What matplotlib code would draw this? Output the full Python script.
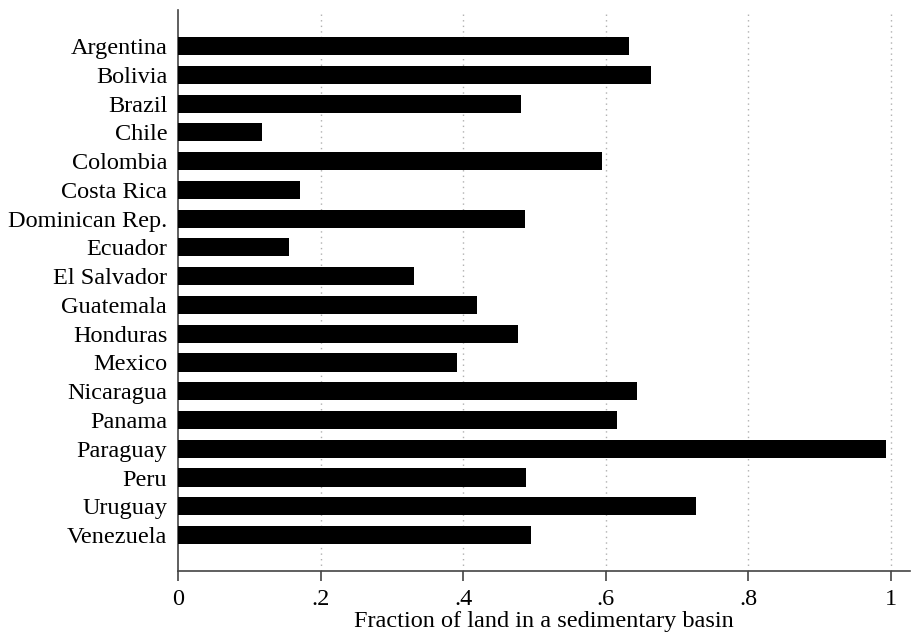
import matplotlib
matplotlib.use("Agg")
import matplotlib.pyplot as plt
import numpy as np

plt.rcParams['font.family'] = ['Liberation Serif', 'DejaVu Serif']

countries = ["Argentina", "Bolivia", "Brazil", "Chile", "Colombia", "Costa Rica",
             "Dominican Rep.", "Ecuador", "El Salvador", "Guatemala", "Honduras",
             "Mexico", "Nicaragua", "Panama", "Paraguay", "Peru", "Uruguay",
             "Venezuela"]
fraction = [0.633, 0.663, 0.481, 0.118, 0.595, 0.171,
            0.487, 0.155, 0.331, 0.419, 0.477,
            0.391, 0.644, 0.616, 0.993, 0.488, 0.727,
            0.495]
xticks = [0, 0.2, 0.4, 0.6, 0.8, 1.0]
xticklabels = ["0", ".2", ".4", ".6", ".8", "1"]

fig = plt.figure(figsize=(9.12, 6.35), dpi=100)
ax = fig.add_axes([0.1955, 0.1008, 0.8025, 0.8832])

y = np.arange(len(countries))
ax.barh(y, fraction, height=0.63, color="black", zorder=3)

ax.set_ylim(len(countries) - 1 + 1.25, -1.25)
ax.set_xlim(0, 1.027)
ax.set_yticks(y)
ax.set_yticklabels(countries, fontsize=17.5)
ax.set_xticks(xticks)
ax.set_xticklabels(xticklabels, fontsize=17.5)
ax.tick_params(axis="y", length=0, pad=8)
ax.tick_params(axis="x", length=7, width=1.2, color="#444444", pad=6)

for g in xticks[1:]:
    ax.axvline(g, color="#b0b0b0", linestyle=(0, (1, 3)), linewidth=1, zorder=1)

for s in ["top", "right"]:
    ax.spines[s].set_visible(False)
ax.spines["left"].set_color("#444444")
ax.spines["bottom"].set_color("#444444")
ax.spines["left"].set_linewidth(1.2)
ax.spines["bottom"].set_linewidth(1.2)

ax.set_xlabel("Fraction of land in a sedimentary basin", fontsize=17.5, labelpad=1)

fig.savefig("out.png", dpi=100)
